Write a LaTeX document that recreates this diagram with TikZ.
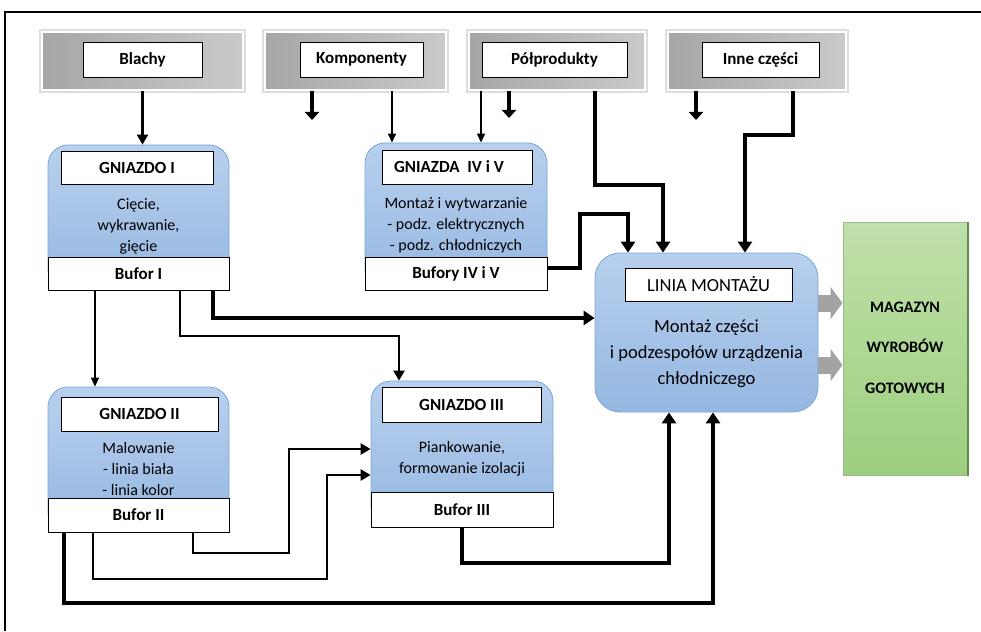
\documentclass[tikz,border=0pt]{standalone}
\usepackage{fontspec}
\setmainfont{Carlito}
\usetikzlibrary{arrows.meta}
\definecolor{blueTop}{HTML}{B8D0EE}
\definecolor{blueBot}{HTML}{95B7E1}
\definecolor{blueEdge}{HTML}{7AA6DA}
\definecolor{greenTop}{HTML}{BFE0AA}
\definecolor{greenBot}{HTML}{9DCE7E}
\definecolor{greenEdge}{HTML}{5E8A47}
\definecolor{greyL}{HTML}{A6A6A6}
\definecolor{greyR}{HTML}{CACACA}
\definecolor{arrowGrey}{HTML}{A3A3A3}
\newcommand\myfs[2]{\fontsize{#1}{#2}\selectfont}
\begin{document}
\begin{tikzpicture}[x=1pt,y=-1pt,
  src/.style={draw=white, line width=2pt, left color=greyL, right color=greyR, inner sep=0pt,
              preaction={draw=black!13, line width=6pt}},
  srcin/.style={draw=black, line width=0.8pt, fill=white, inner sep=0pt, font=\bfseries\myfs{17}{20}},
  gbox/.style={draw=blueEdge, line width=0.8pt, top color=blueTop, bottom color=blueBot, rounded corners=20pt, inner sep=0pt},
  whead/.style={draw=black, line width=0.8pt, fill=white, inner sep=0pt, font=\bfseries\myfs{17}{20}},
  body/.style={align=center, inner sep=0pt, font=\myfs{16}{21}},
  magbox/.style={draw=greenEdge!60, line width=1pt, top color=greenTop, bottom color=greenBot, inner sep=0pt},
  arrT/.style={line width=1.5pt, -{Triangle[length=9pt,width=8pt]}},
  arrM/.style={line width=2.4pt, -{Triangle[length=10pt,width=11pt]}},
  arrK/.style={line width=4.3pt, -{Triangle[length=11pt,width=14pt]}},
  stubA/.style={line width=4.5pt, -{Triangle[length=8pt,width=14pt]}},
  greyarr/.style={line width=17pt, draw=arrowGrey, -{Triangle[length=12pt,width=32pt]}},
]
\useasboundingbox (0,0) rectangle (981,631);
\fill[white] (0,0) rectangle (981,631);
% frame
\coordinate (fa) at (5,631); \coordinate (fb) at (5,12); \coordinate (fc) at (981,12);
\draw[line width=1.3pt] (fa) -- (fb) -- (fc);

% source boxes
\node[src, minimum width=201pt, minimum height=58pt] (sA) at (142.5,61) {};
\node[srcin, minimum width=119pt, minimum height=35pt] (sAi) at (142.5,59.5) {Blachy};
\node[src, minimum width=181pt, minimum height=58pt] (sB) at (355.5,61) {};
\node[srcin, minimum width=123pt, minimum height=35pt] (sBi) at (361.5,59.5) {Komponenty};
\node[src, minimum width=176pt, minimum height=58pt] (sC) at (557,61) {};
\node[srcin, minimum width=145pt, minimum height=35pt] (sCi) at (554.5,59.5) {Półprodukty};
\node[src, minimum width=178pt, minimum height=58pt] (sD) at (757,61) {};
\node[srcin, minimum width=117pt, minimum height=35pt] (sDi) at (760.5,59.5) {Inne części};

% GNIAZDO I
\node[gbox, minimum width=181pt, minimum height=145pt] (g1) at (138.5,217.5) {};
\node[whead, minimum width=152pt, minimum height=33pt] (g1h) at (137,167.5) {GNIAZDO I};
\node[body] (g1t) at (138.5,226) {Cięcie,\\wykrawanie,\\gięcie};
\node[whead, minimum width=181pt, minimum height=33pt] (b1) at (138.5,273.5) {Bufor I};

% GNIAZDA IV i V
\node[gbox, minimum width=182pt, minimum height=147pt] (g45) at (456,216.5) {};
\node[whead, minimum width=150pt, minimum height=34pt] (g45h) at (457,167) {GNIAZDA\ \ IV i V\hspace*{16pt}};
\node[body] (g45t) at (456,225) {Montaż i wytwarzanie\\- podz. elektrycznych\\- podz. chłodniczych};
\node[whead, minimum width=182pt, minimum height=33pt] (b45) at (456,273.5) {Bufory IV i V};

% GNIAZDO II
\node[gbox, minimum width=181pt, minimum height=145pt] (g2) at (138.5,459.5) {};
\node[whead, minimum width=157pt, minimum height=34pt] (g2h) at (139.5,414) {GNIAZDO II};
\node[body] (g2t) at (138.5,469) {Malowanie\\- linia biała\\- linia kolor};
\node[whead, minimum width=181pt, minimum height=34pt] (b2) at (138.5,515) {Bufor II};

% GNIAZDO III
\node[gbox, minimum width=182pt, minimum height=146pt] (g3) at (462,454) {};
\node[whead, minimum width=159pt, minimum height=35pt] (g3h) at (461.5,404.5) {GNIAZDO III};
\node[body] (g3t) at (462,458.5) {Piankowanie,\\formowanie izolacji};
\node[whead, minimum width=182pt, minimum height=35pt] (b3) at (462,509.5) {Bufor III};

% LINIA MONTAZU
\node[gbox, rounded corners=25pt, minimum width=223pt, minimum height=159pt] (lin) at (706.5,332.5) {};
\node[whead, font=\myfs{18.5}{22}, minimum width=167pt, minimum height=33pt] (linh) at (708.5,284.5) {LINIA MONTAŻU};
\node[body, font=\myfs{18.5}{26}] (lint) at (706.5,354) {Montaż części\\i podzespołów urządzenia\\chłodniczego};

% MAGAZYN
\node[magbox, minimum width=124pt, minimum height=253pt] (mag) at (905,348.5) {};
\draw[greenEdge, line width=2pt] (mag.north east) -- (mag.south east);
\node[font=\bfseries\myfs{16}{40.5}, align=center, inner sep=0pt] (magt) at (905,347.5) {MAGAZYN\\WYROBÓW\\GOTOWYCH};

% grey arrows
\coordinate (ga1) at (0,303); \coordinate (ga2) at (0,365);
\draw[greyarr] (ga1 -| lin.east) -- (ga1 -| mag.west);
\draw[greyarr] (ga2 -| lin.east) -- (ga2 -| mag.west);

% connectors from sources
\draw[arrM] (sA.south) -- (sA.south |- g1.north);
\coordinate (stK) at (312,120);
\draw[stubA] (stK |- sB.south) -- (stK);
\coordinate (xK) at (392,0);
\draw[arrT] (xK |- sB.south) -- (xK |- g45.north);
\coordinate (xP) at (481,0);
\draw[arrT] (xP |- sC.south) -- (xP |- g45.north);
\coordinate (stP) at (509,118);
\draw[stubA] (stP |- sC.south) -- (stP);
\coordinate (p1) at (595,185); \coordinate (p2) at (663,185);
\draw[arrK] (p1 |- sC.south) -- (p1) -- (p2) -- (p2 |- lin.north);
\coordinate (stI) at (696,120);
\draw[stubA] (stI |- sD.south) -- (stI);
\coordinate (r1) at (793,135); \coordinate (r2) at (745,135);
\draw[arrK] (r1 |- sD.south) -- (r1) -- (r2) -- (r2 |- lin.north);

% Bufory IV i V -> LINIA
\coordinate (q1) at (580,268); \coordinate (q2) at (580,214); \coordinate (q3) at (628,214);
\draw[arrK] (q1 -| b45.east) -- (q1) -- (q2) -- (q3) -- (q3 |- lin.north);

% Bufor I
\coordinate (xB1) at (95,0);
\draw[arrT] (xB1 |- b1.south) -- (xB1 |- g2.north);
\coordinate (s1) at (180,336); \coordinate (s2) at (399,336);
\draw[arrM] (s1 |- b1.south) -- (s1) -- (s2) -- (s2 |- g3.north);
\coordinate (t1) at (213,318);
\draw[arrK] (t1 |- b1.south) -- (t1) -- (t1 -| lin.west);

% Bufor II
\coordinate (u1) at (193,553); \coordinate (u2) at (289,553); \coordinate (u3) at (289,449);
\draw[arrM] (u1 |- b2.south) -- (u1) -- (u2) -- (u3) -- (u3 -| g3.west);
\coordinate (v1) at (93,579); \coordinate (v2) at (327,579); \coordinate (v3) at (327,475);
\draw[arrM] (v1 |- b2.south) -- (v1) -- (v2) -- (v3) -- (v3 -| g3.west);
\coordinate (w1) at (64,603); \coordinate (w2) at (713,603);
\draw[arrK] (w1 |- b2.south) -- (w1) -- (w2) -- (w2 |- lin.south);

% Bufor III
\coordinate (z1) at (462,563); \coordinate (z2) at (669,563);
\draw[arrK] (z1 |- b3.south) -- (z1) -- (z2) -- (z2 |- lin.south);
\end{tikzpicture}
\end{document}
